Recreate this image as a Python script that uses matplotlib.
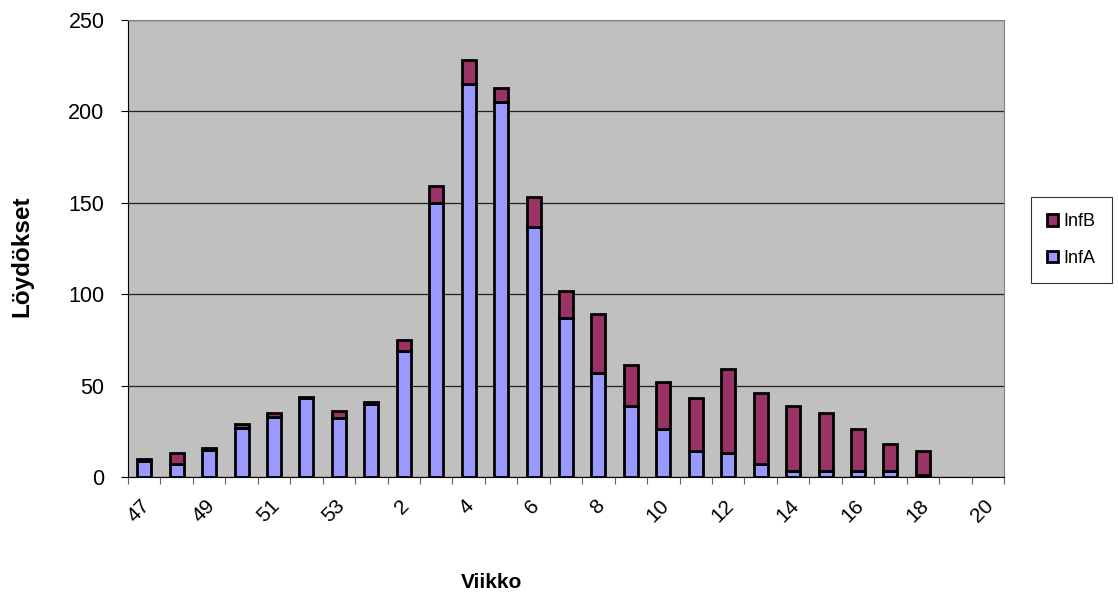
import numpy as np
import matplotlib
matplotlib.use('Agg')
import matplotlib.pyplot as plt

# data
weeks = [47, 48, 49, 50, 51, 52, 53] + list(range(1, 21))
infA = [9, 7, 15, 27, 33, 43, 32, 40, 69, 150, 215, 205, 137, 87, 57, 39,
        26, 14, 13, 7, 3, 3, 3, 3, 1, 0, 0]
infB = [1, 6, 1, 2, 2, 1, 4, 1, 6, 9, 13, 8, 16, 15, 32, 22,
        26, 29, 46, 39, 36, 32, 23, 15, 13, 0, 0]

plt.rcParams['font.family'] = ['Liberation Sans', 'DejaVu Sans']

fig = plt.figure(figsize=(11.18, 5.99), dpi=100)
ax = fig.add_axes([0.1145, 0.2037, 0.7835, 0.763])
ax.set_facecolor('#c0c0c0')

x = np.arange(len(weeks))
a = np.array(infA)
b = np.array(infB)
keep = (a + b) > 0
w = 0.43
ax.bar(x[keep], a[keep], w, color='#9999ff', edgecolor='black', linewidth=2.0,
       label='InfA', zorder=3)
ax.bar(x[keep], b[keep], w, bottom=a[keep], color='#993366', edgecolor='black',
       linewidth=2.0, label='InfB', zorder=3)

ax.set_xlim(-0.5, len(weeks) - 0.5)
ax.set_ylim(0, 250)
ax.set_yticks(range(0, 251, 50))
ax.yaxis.grid(True, color='#202020', linewidth=0.9, zorder=1)
ax.tick_params(axis='y', labelsize=15.5, length=5, pad=12, direction='out', color='black')

# tick marks between categories, labels on every other category
ax.set_xticks(np.arange(len(weeks) + 1) - 0.5)
ax.set_xticklabels([])
ax.tick_params(axis='x', length=5, direction='out', color='#606060')
for i in range(0, len(weeks), 2):
    ax.text(x[i] + 0.08, -14, str(weeks[i]), rotation=45, ha='right', va='center',
            rotation_mode='anchor', fontsize=15)

for s in ['top', 'right']:
    ax.spines[s].set_color('#808080')
ax.spines['left'].set_color('black')
ax.spines['bottom'].set_color('black')

fig.text(0.44, 0.028, 'Viikko', fontsize=15, fontweight='bold', ha='center', va='center')
fig.text(0.02, 0.573, 'Löydökset', fontsize=17.5, fontweight='bold', rotation=90,
         ha='center', va='center')

h, l = ax.get_legend_handles_labels()
leg = fig.legend(h[::-1], l[::-1], loc='center', bbox_to_anchor=(0.9585, 0.599),
                 frameon=True, fancybox=False, edgecolor='black', fontsize=13,
                 handlelength=0.6, handleheight=0.6, handletextpad=0.3,
                 labelspacing=1.1, borderpad=0.9)
leg.get_frame().set_linewidth(0.8)

fig.savefig('out.png', dpi=100)
